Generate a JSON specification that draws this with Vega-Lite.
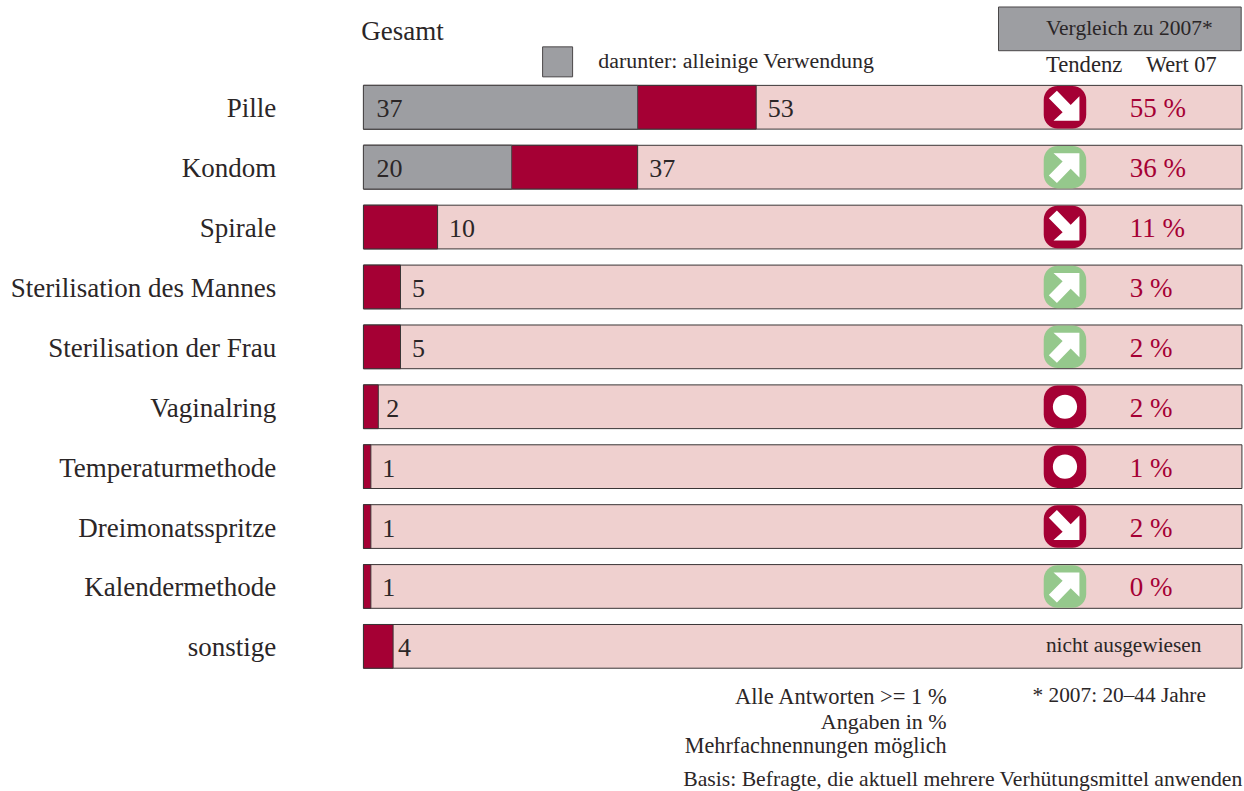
{
"$schema":"https://vega.github.io/schema/vega-lite/v6.json",
"width":1244,"height":791,"padding":0,"autosize":{"type":"none"},
"background":"white",
"config":{"view":{"stroke":null},"text":{"font":"Liberation Serif","color":"#2b2627","fontSize":26}},
"datasets":{"verfahren":[
{"verfahren":"Pille","gesamt":53,"allein":37,"tendenz":"runter","wert07":"55 %"},
{"verfahren":"Kondom","gesamt":37,"allein":20,"tendenz":"hoch","wert07":"36 %"},
{"verfahren":"Spirale","gesamt":10,"tendenz":"runter","wert07":"11 %"},
{"verfahren":"Sterilisation des Mannes","gesamt":5,"tendenz":"hoch","wert07":"3 %"},
{"verfahren":"Sterilisation der Frau","gesamt":5,"tendenz":"hoch","wert07":"2 %"},
{"verfahren":"Vaginalring","gesamt":2,"tendenz":"gleich","wert07":"2 %"},
{"verfahren":"Temperaturmethode","gesamt":1,"tendenz":"gleich","wert07":"1 %"},
{"verfahren":"Dreimonatsspritze","gesamt":1,"tendenz":"runter","wert07":"2 %"},
{"verfahren":"Kalendermethode","gesamt":1,"tendenz":"hoch","wert07":"0 %"},
{"verfahren":"sonstige","gesamt":4}
]},
"data":{"name":"verfahren"},
"encoding":{
"y":{"field":"verfahren","type":"nominal","axis":null,"scale":{"type":"band","domain":["Kopf","Pille","Kondom","Spirale","Sterilisation des Mannes","Sterilisation der Frau","Vaginalring","Temperaturmethode","Dreimonatsspritze","Kalendermethode","sonstige","Fuss","Basis"],"range":[17.4,796.1],"paddingInner":0.27,"paddingOuter":0.135}}
},
"layer":[
{"mark":{"type":"bar","fill":"#efd0cf","stroke":"#3a3536","strokeWidth":1},
 "encoding":{"x":{"datum":0,"type":"quantitative","axis":null,"scale":{"domain":[-49.05,118.83],"nice":false,"zero":false}},"x2":{"datum":118.55}}},
{"mark":{"type":"bar","fill":"#a50034","stroke":"#3a3536","strokeWidth":1},
 "encoding":{"x":{"field":"gesamt","type":"quantitative","stack":null}}},
{"mark":{"type":"bar","fill":"#9d9ea2","stroke":"#4a4748","strokeWidth":1},
 "encoding":{"x":{"field":"allein","type":"quantitative","stack":null}}},
{"transform":[{"filter":"isValid(datum.tendenz)"}],
 "mark":{"type":"point","filled":true,"opacity":1,"strokeWidth":0,"size":1806},
 "encoding":{"x":{"datum":94.67},
  "color":{"field":"tendenz","type":"nominal","legend":null,"scale":{"domain":["runter","gleich","hoch"],"range":["#a50034","#a50034","#95c88c"]}},
  "shape":{"value":"M-0.35 -1H0.35A0.65 0.65 0 0 1 1 -0.35V0.35A0.65 0.65 0 0 1 0.35 1H-0.35A0.65 0.65 0 0 1 -1 0.35V-0.35A0.65 0.65 0 0 1 -0.35 -1Z"}}},
{"transform":[{"filter":"isValid(datum.tendenz)"}],
 "mark":{"type":"point","filled":true,"opacity":1,"strokeWidth":0,"size":1806,"color":"white"},
 "encoding":{"x":{"datum":94.67},
  "shape":{"field":"tendenz","type":"nominal","legend":null,"scale":{"domain":["runter","gleich","hoch"],"range":[
   "M0.68 0.63V-0.52L0.27 -0.11L-0.38 -0.78L-0.76 -0.42L-0.11 0.24L-0.54 0.63Z",
   "M-0.57 0A0.57 0.57 0 1 0 0.57 0A0.57 0.57 0 1 0 -0.57 0Z",
   "M0.68 -0.66V0.49L0.27 0.08L-0.38 0.75L-0.76 0.39L-0.11 -0.27L-0.54 -0.66Z"]}}}},
{"mark":{"type":"text","align":"right","baseline":"middle","dy":2,"fontSize":27},
 "encoding":{"x":{"datum":-11.78},"text":{"field":"verfahren"}}},
{"transform":[{"filter":"datum.gesamt > 4 || datum.gesamt == 1"}],
 "mark":{"type":"text","align":"left","baseline":"middle","dx":11.5,"dy":2},
 "encoding":{"x":{"field":"gesamt","type":"quantitative","stack":null},"text":{"field":"gesamt"}}},
{"transform":[{"filter":"datum.gesamt == 2"}],
 "mark":{"type":"text","align":"left","baseline":"middle","dx":8,"dy":2},
 "encoding":{"x":{"field":"gesamt","type":"quantitative","stack":null},"text":{"field":"gesamt"}}},
{"transform":[{"filter":"datum.gesamt == 4"}],
 "mark":{"type":"text","align":"left","baseline":"middle","dx":5,"dy":2},
 "encoding":{"x":{"field":"gesamt","type":"quantitative","stack":null},"text":{"field":"gesamt"}}},
{"transform":[{"filter":"isValid(datum.allein)"}],
 "mark":{"type":"text","align":"left","baseline":"middle","dx":13,"dy":2},
 "encoding":{"x":{"datum":0},"text":{"field":"allein"}}},
{"transform":[{"filter":"isValid(datum.wert07)"}],
 "mark":{"type":"text","align":"left","baseline":"middle","dy":2,"color":"#a50034","fontSize":27},
 "encoding":{"x":{"datum":103.4},"text":{"field":"wert07"}}},
{"data":{"values":[{"verfahren":"sonstige","text":"nicht ausgewiesen"}]},
 "mark":{"type":"text","align":"left","baseline":"middle","fontSize":21.3},
 "encoding":{"x":{"datum":92.1},"text":{"field":"text"}}},
{"data":{"values":[{"verfahren":"Kopf"}]},
 "mark":{"type":"bar","fill":"#9d9ea2","stroke":"#4a4748","strokeWidth":1,"yOffset":-18.5},
 "encoding":{"x":{"datum":85.7},"x2":{"datum":118.45}}},
{"data":{"values":[{"verfahren":"Kopf"}]},
 "mark":{"type":"point","shape":"square","filled":true,"opacity":1,"fill":"#9d9ea2","stroke":"#4a4748","strokeWidth":1,"size":900,"yOffset":14.5},
 "encoding":{"x":{"datum":26.2}}},
{"data":{"values":[{"verfahren":"Kopf","text":"Gesamt"}]},
 "mark":{"type":"text","align":"left","baseline":"middle","dy":-15,"fontSize":27},
 "encoding":{"x":{"datum":-0.3},"text":{"field":"text"}}},
{"data":{"values":[{"verfahren":"Kopf","text":"darunter: alleinige Verwendung"}]},
 "mark":{"type":"text","align":"left","baseline":"middle","dy":14,"fontSize":21.9},
 "encoding":{"x":{"datum":31.7},"text":{"field":"text"}}},
{"data":{"values":[{"verfahren":"Kopf","text":"Vergleich zu 2007*"}]},
 "mark":{"type":"text","align":"left","baseline":"middle","dy":-18,"fontSize":21.5},
 "encoding":{"x":{"datum":92.1},"text":{"field":"text"}}},
{"data":{"values":[{"verfahren":"Kopf","text":"Tendenz"}]},
 "mark":{"type":"text","align":"left","baseline":"middle","dy":18,"fontSize":22.7},
 "encoding":{"x":{"datum":92.1},"text":{"field":"text"}}},
{"data":{"values":[{"verfahren":"Kopf","text":"Wert 07"}]},
 "mark":{"type":"text","align":"left","baseline":"middle","dy":18,"fontSize":22.3},
 "encoding":{"x":{"datum":105.6},"text":{"field":"text"}}},
{"data":{"values":[{"verfahren":"Fuss","text":"Alle Antworten >= 1 %"}]},
 "mark":{"type":"text","align":"right","baseline":"middle","dy":-9,"fontSize":22.5},
 "encoding":{"x":{"datum":78.7},"text":{"field":"text"}}},
{"data":{"values":[{"verfahren":"Fuss","text":"Angaben in %"}]},
 "mark":{"type":"text","align":"right","baseline":"middle","dy":16,"fontSize":22},
 "encoding":{"x":{"datum":78.7},"text":{"field":"text"}}},
{"data":{"values":[{"verfahren":"Basis","text":"Mehrfachnennungen möglich"}]},
 "mark":{"type":"text","align":"right","baseline":"middle","dy":-20,"fontSize":22.2},
 "encoding":{"x":{"datum":78.7},"text":{"field":"text"}}},
{"data":{"values":[{"verfahren":"Fuss","text":"* 2007: 20–44 Jahre"}]},
 "mark":{"type":"text","align":"left","baseline":"middle","dy":-10,"fontSize":21.3},
 "encoding":{"x":{"datum":90.3},"text":{"field":"text"}}},
{"data":{"values":[{"verfahren":"Basis","text":"Basis: Befragte, die aktuell mehrere Verhütungsmittel anwenden"}]},
 "mark":{"type":"text","align":"right","baseline":"middle","dy":13,"fontSize":21.7},
 "encoding":{"x":{"datum":118.6},"text":{"field":"text"}}}
]
}
